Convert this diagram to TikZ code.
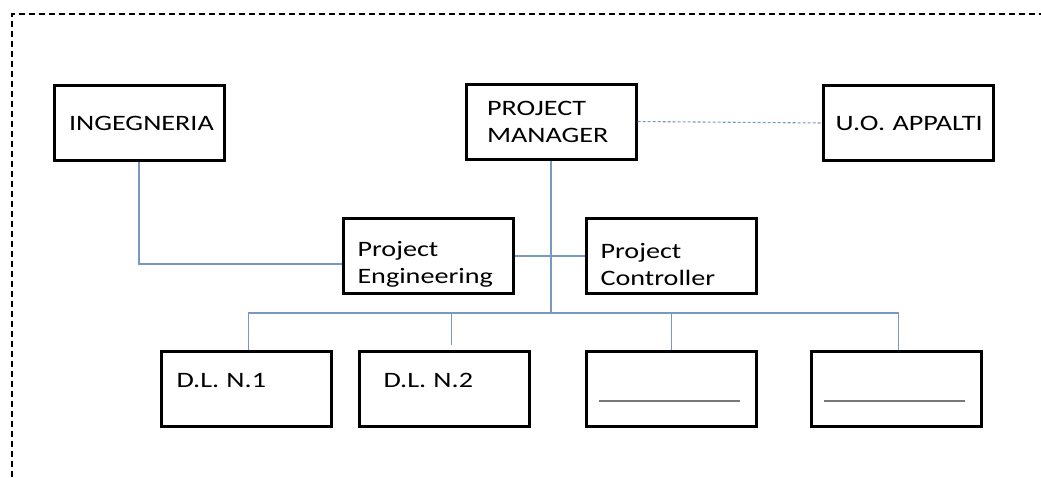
\documentclass[tikz,border=0pt]{standalone}
\usepackage{fontspec}
\setmainfont[FakeStretch=1.28]{Carlito}
\usetikzlibrary{positioning}

\definecolor{linkblue}{RGB}{122,152,196}
\definecolor{blankgray}{RGB}{120,120,120}

\begin{document}
\begin{tikzpicture}[x=1pt, y=-1pt, font=\fontsize{22}{27}\selectfont]
                \tikzset{
                    unit/.style={draw, line width=3pt, minimum width=170pt, minimum height=75pt,
                        inner xsep=#1, text width={170pt-2*#1}, align=left},
                    unit/.default=14pt,
                    low/.style={execute at begin node={\rule{0pt}{32pt}}},
                    high/.style={execute at end node={\rule[-17pt]{0pt}{0pt}}},
                    link/.style={draw=linkblue, line width=1.1pt},
                    blank/.style={draw=blankgray, line width=2pt}
                }
                \useasboundingbox (0,0) rectangle (1041,477);

                % FRAME
                \draw[line width=1.3pt, dash pattern=on 6pt off 4pt] (12,477) |- (1041,14);

                % TOP ROW
                \node[unit=15pt] (ing) at (139,123) {INGEGNERIA};
                \node[unit=21pt] (pm) at (551,121.5) {PROJECT\\MANAGER};
                \node[unit=12pt] (uo) at (908.5,123) {\mbox{U.O. APPALTI}};

                % STAFF
                \node[unit, low] (pe) at (428.5,256) {Project\\Engineering};
                \node[unit, low] (pc) [right=70pt of pe] {Project\\Controller};

                % SITE OFFICES
                \node[unit=15pt, high] (dl1) at (246.5,389) {D.L. N.1};
                \node[unit=24pt, high] (dl2) [right=25pt of dl1] {D.L. N.2};
                \node[unit] (b3) [right=54pt of dl2] {};
                \node[unit] (b4) [right=52pt of b3] {};
                \coordinate (hub) at (pm.south |- 0,313);

                % LINKS
                \draw[link, dash pattern=on 3pt off 2pt] (pm.east) -- (uo.west);
                \draw[link] (ing.south) |- ([yshift=-8pt]pe.west);
                \draw[link] (pe.east) -- (pc.west);
                \draw[link] (pm.south) -- (hub);
                \draw[link] ([xshift=2pt]dl1.north) |- (hub) -| ([xshift=2pt]b4.north);
                \draw[link] ([xshift=7pt, yshift=5pt]dl2.north) -- ([xshift=7pt]dl2.north |- hub);
                \draw[link] (b3.north) -- (b3.north |- hub);

                % EMPTY NAMES
                \draw[blank] ([shift={(14,12)}]b3.west) -- ([shift={(-18,12)}]b3.east);
                \draw[blank] ([shift={(14,12)}]b4.west) -- ([shift={(-18,12)}]b4.east);

            \end{tikzpicture}
\end{document}
